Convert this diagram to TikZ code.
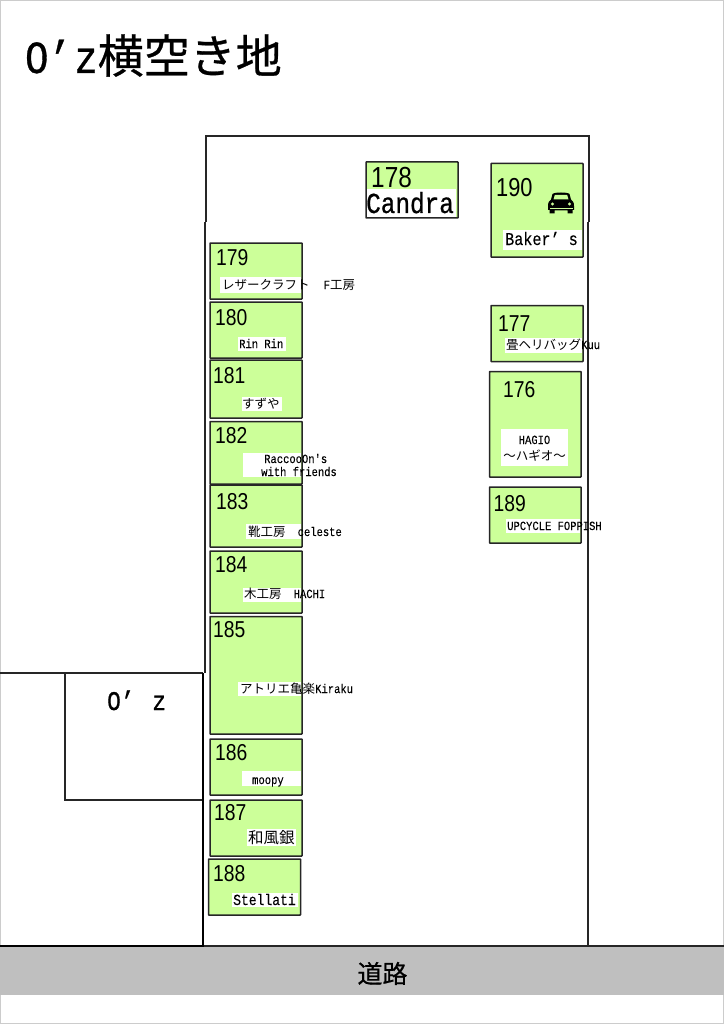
\documentclass[tikz,border=0pt]{standalone}
\usepackage{fontspec}
\setmainfont{Liberation Sans}
\newfontfamily\jpf{Noto Sans CJK JP}
\newfontfamily\jpbf[FakeBold=0.6]{Noto Sans CJK JP}
\newfontfamily\latf[FakeStretch=0.84,FakeBold=0.1]{Liberation Mono}
\newfontfamily\latbf[FakeStretch=0.84,FakeBold=0.7]{Liberation Mono}
\newfontfamily\numf[FakeStretch=0.84]{Liberation Sans}
\newcommand{\sz}[1]{\fontsize{#1}{#1}\selectfont}
\newcommand{\jp}[1]{{\jpf #1}}
\newcommand{\lt}[1]{{\latf #1}}
\definecolor{shopgreen}{HTML}{CCFF99}
\definecolor{roadgray}{HTML}{BFBFBF}
\definecolor{inkline}{HTML}{262626}
\tikzset{
  shop/.style={draw=inkline,line width=1.5pt,fill=shopgreen,inner sep=0pt,rounded corners=0.5pt},
  numlabel/.style={anchor=base west,inner sep=0pt,text=black,font=\numf\sz{23}},
  txt/.style={anchor=base west,inner sep=0pt,text=black,font=\sz{12.5}},
  txtc/.style={anchor=base,inner sep=0pt,text=black,font=\sz{12.5}},
  wall/.style={draw=inkline,line width=2pt},
  thickwall/.style={draw=black,line width=2.8pt},
  patch/.style={fill=white,draw=none}
}
\newcommand{\shop}[5]{% name x1 y1 x2 y2
  \path[shop] (#2,#3) rectangle (#4,#5);
  \coordinate (#1) at (#2,#3);}
\begin{document}
\begin{tikzpicture}[x=1pt,y=-1pt]
\useasboundingbox (0,0) rectangle (724,1024);
\fill[white] (0,0) rectangle (724,1024);
\draw[draw=black!20,line width=1pt] (0.5,0.5) rectangle (723.5,1023.5);
% road
\fill[roadgray] (0,947) rectangle (724,995);
\draw[wall] (204,946) -- (724,946);
% site outline
\draw[wall] (205.5,222) -- (205.5,136) -- (589,136) -- (589,222);
\draw[wall] (204.5,222) -- (204.5,673);
\draw[wall] (587.5,222) -- (587.5,946);
% O'z building
\draw[wall] (0,673) -- (203,673);
\draw[wall] (65,673) -- (65,800) -- (203,800);
\draw[thickwall] (203,673) -- (203,946) -- (0,946);
% shops
\shop{s178}{366}{162}{458}{218}
\shop{s190}{491}{163.5}{583}{257}
\shop{s179}{210}{243}{302}{299}
\shop{s180}{210}{302}{302}{358}
\shop{s181}{210}{360}{302}{418}
\shop{s182}{210}{421.5}{302}{484}
\shop{s183}{210}{485}{302}{547}
\shop{s184}{210}{551}{302}{613}
\shop{s185}{210}{616.5}{302}{734}
\shop{s186}{210}{739}{302}{795}
\shop{s187}{210}{800}{302}{856}
\shop{s188}{208.5}{859}{300.5}{915}
\shop{s177}{491}{305.5}{583}{361.5}
\shop{s176}{489.5}{371.5}{581}{477}
\shop{s189}{489.5}{487}{581}{543}
% white patches
\fill[patch] (367,189) rectangle (456,217);
\fill[patch] (503,230) rectangle (582,250);
\fill[patch] (220,277) rectangle (301.3,293);
\fill[patch] (238,337) rectangle (286,351);
\fill[patch] (242,397) rectangle (282,411);
\fill[patch] (243,453) rectangle (301.3,477);
\fill[patch] (246,524) rectangle (301.3,539);
\fill[patch] (243,588) rectangle (301.3,602);
\fill[patch] (238,682) rectangle (301.3,696);
\fill[patch] (242,771) rectangle (301.3,786);
\fill[patch] (247,829) rectangle (296,846);
\fill[patch] (232,893) rectangle (298,907);
\fill[patch] (505,338) rectangle (582,353);
\fill[patch] (501,429) rectangle (568,466);
\fill[patch] (506,519) rectangle (580.3,533);
% numbers
\node[numlabel,font=\numf\sz{29}] (n178) at (371,188) {178};
\node[numlabel,font=\numf\sz{26}] (n190) at (496,197) {190};
\node[numlabel] (n179) at (216,265) {179};
\node[numlabel] (n180) at (215,325) {180};
\node[numlabel] (n181) at (213,383) {181};
\node[numlabel] (n182) at (215,443) {182};
\node[numlabel] (n183) at (216,509) {183};
\node[numlabel] (n184) at (215,572) {184};
\node[numlabel] (n185) at (213,637) {185};
\node[numlabel] (n186) at (215,760) {186};
\node[numlabel] (n187) at (214,820) {187};
\node[numlabel] (n188) at (213,881) {188};
\node[numlabel] (n177) at (498,331) {177};
\node[numlabel] (n176) at (503,397) {176};
\node[numlabel] (n189) at (493.5,511) {189};
% names
\node[txt,font=\latbf\sz{29}] (t178) at (366,213) {Candra};
\node[txt,font=\sz{18}] (t190) at (505,245) {\lt{Baker’ s}};
\node[txt] (t179) at (222,289) {\jp{レザークラフト}\hspace{14pt}\lt{F}\jp{工房}};
\node[txt] (t180) at (239,348) {\lt{Rin Rin}};
\node[txt] (t181) at (242,408) {\jp{すずや}};
\node[txt] (t182a) at (264,463) {\lt{RaccooOn's}};
\node[txt] (t182b) at (261,476) {\lt{with friends}};
\node[txt] (t183) at (248,536) {\jp{靴工房}\hspace{12pt}\lt{celeste}};
\node[txt] (t184) at (244,598) {\jp{木工房}\hspace{12pt}\lt{HACHI}};
\node[txt] (t185) at (240,693) {\jp{アトリエ亀楽}\lt{Kiraku}};
\node[txt] (t186) at (252,784) {\lt{moopy}};
\node[txt,font=\sz{15.5}] (t187) at (248,843) {\jp{和風銀}};
\node[txt,font=\sz{15.5}] (t188) at (233,905) {\lt{Stellati}};
\node[txt] (t177) at (506,349) {\jp{畳ヘリバッグ}\lt{Kuu}};
\node[txtc] (t176a) at (534.5,444) {\lt{HAGIO}};
\node[txtc] (t176b) at (534.5,460) {\jp{～ハギオ～}};
\node[txt] (t189) at (507,530) {\lt{UPCYCLE FOPPISH}};
% car
\fill[black] (548,206) .. controls (548,202) and (549.5,200.5) .. (551,199.5) -- (552.5,194) .. controls (554,192) and (568,192) .. (569.5,194) -- (571,199.5) .. controls (572.5,200.5) and (574,202) .. (574,206) -- (574,210) -- (572.5,210) -- (572.5,213.5) -- (567.5,213.5) -- (567.5,210.5) -- (554.5,210.5) -- (554.5,213.5) -- (549.5,213.5) -- (549.5,210) -- (548,210) -- cycle;
\fill[shopgreen] (553.5,199.5) -- (554.8,195) -- (567.2,195) -- (568.5,199.5) -- cycle;
\fill[shopgreen] (552.5,204) circle (1.6);
\fill[shopgreen] (569.5,204) circle (1.6);
\fill[shopgreen] (549.5,207.8) rectangle (572.5,208.6);
% other texts
\node[anchor=base west,inner sep=0pt,font=\latbf\sz{27}] (oz) at (107,710) {O’\hspace{18pt}z};
\node[anchor=base west,inner sep=0pt,font=\sz{46}] (title) at (25,73) {{\latbf O’\hspace{3pt}z}{\jpbf 横空き地}};
\node[anchor=base,inner sep=0pt,font=\jpbf\sz{25}] (road) at (382.5,983) {道路};
\end{tikzpicture}
\end{document}
